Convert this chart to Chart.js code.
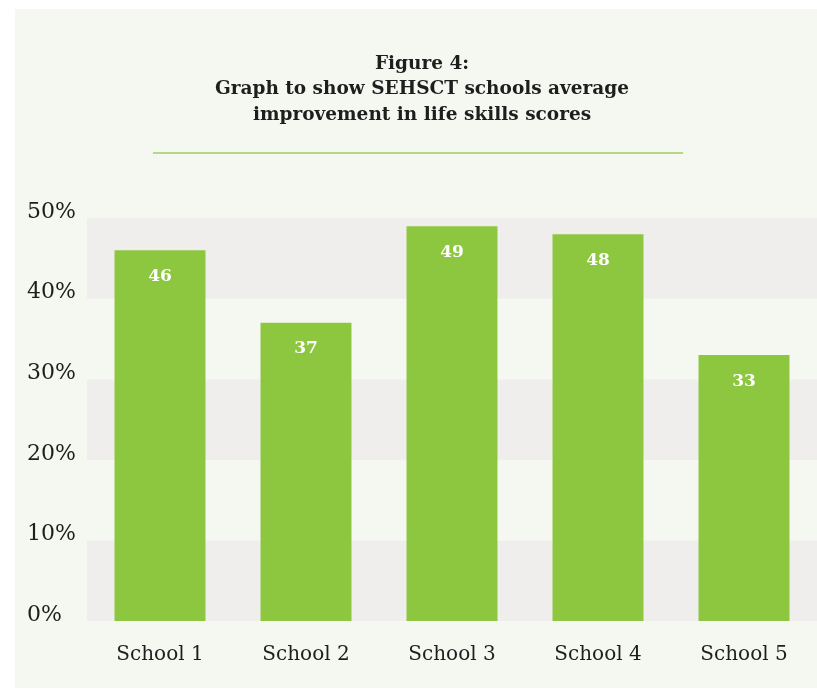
<!DOCTYPE html>
<html>
<head>
<meta charset="utf-8">
<script src="https://cdn.jsdelivr.net/npm/chart.js@4/dist/chart.umd.min.js"></script>
<style>
  html, body { margin: 0; padding: 0; background: #ffffff; }
  #wrap { width: 817px; height: 689px; position: relative; }
</style>
</head>
<body>
<div id="wrap"><canvas id="c" width="817" height="689"></canvas></div>
<script>
const categories = ["School 1", "School 2", "School 3", "School 4", "School 5"];
const improvement = [46, 37, 49, 48, 33];
const titleLines = ["Figure 4:", "Graph to show SEHSCT schools average", "improvement in life skills scores"];
const yMin = 0, yMax = 50, yStep = 10;

const PANEL_BG = "#f5f8f1";
const BAND_GRAY = "#efeeec";
const BAR_GREEN = "#8dc63f";
const TEXT = "#1e1e1e";
const SERIF = "'DejaVu Serif', serif";

const panelPlugin = {
  id: "panel",
  beforeDraw(chart) {
    const ctx = chart.ctx;
    ctx.save();
    ctx.fillStyle = "#ffffff";
    ctx.fillRect(0, 0, chart.width, chart.height);
    ctx.fillStyle = PANEL_BG;
    ctx.fillRect(15, 9, chart.width - 15, chart.height - 10);
    // title underline
    ctx.strokeStyle = "#9fce62";
    ctx.lineWidth = 1.5;
    ctx.beginPath();
    ctx.moveTo(153, 153);
    ctx.lineTo(683, 153);
    ctx.stroke();
    ctx.restore();
  },
  beforeDatasetsDraw(chart) {
    const ctx = chart.ctx;
    const y = chart.scales.y;
    const area = chart.chartArea;
    ctx.save();
    const ticks = y.ticks.map(t => t.value);
    for (let i = 0; i < ticks.length - 1; i++) {
      const v0 = ticks[i], v1 = ticks[i + 1];
      const p0 = y.getPixelForValue(v0), p1 = y.getPixelForValue(v1);
      ctx.fillStyle = (i % 2 === 0) ? BAND_GRAY : PANEL_BG;
      ctx.fillRect(area.left, p1, area.right - area.left, p0 - p1);
    }
    ctx.restore();
  },
  afterDatasetsDraw(chart) {
    const ctx = chart.ctx;
    const meta = chart.getDatasetMeta(0);
    ctx.save();
    ctx.fillStyle = "#ffffff";
    ctx.font = "bold 17px " + SERIF;
    ctx.textAlign = "center";
    ctx.textBaseline = "middle";
    meta.data.forEach((bar, i) => {
      ctx.fillText(String(improvement[i]), bar.x, bar.y + 26);
    });
    ctx.restore();
  }
};

new Chart(document.getElementById("c"), {
  type: "bar",
  data: {
    labels: categories,
    datasets: [{
      data: improvement,
      backgroundColor: BAR_GREEN,
      borderWidth: 0,
      categoryPercentage: 1.0,
      barPercentage: 0.623
    }]
  },
  options: {
    responsive: false,
    animation: false,
    devicePixelRatio: 1,
    layout: { padding: { left: 27, right: 0, top: 0, bottom: 8 } },
    plugins: {
      legend: { display: false },
      tooltip: { enabled: false },
      title: {
        display: true,
        text: titleLines,
        color: TEXT,
        font: { family: SERIF, size: 18.5, weight: "bold", lineHeight: 1.38 },
        padding: { top: 51, bottom: 90.5 }
      }
    },
    scales: {
      x: {
        grid: { display: false },
        border: { display: false },
        ticks: {
          color: TEXT,
          font: { family: SERIF, size: 20 },
          padding: 14
        }
      },
      y: {
        min: yMin,
        max: yMax,
        grid: { display: false },
        border: { display: false },
        afterFit(scale) { scale.width = 60; },
        ticks: {
          stepSize: yStep,
          color: TEXT,
          crossAlign: "far",
          labelOffset: -6,
          font: { family: SERIF, size: 22 },
          callback: v => v + "%"
        }
      }
    }
  },
  plugins: [panelPlugin]
});
</script>
</body>
</html>
